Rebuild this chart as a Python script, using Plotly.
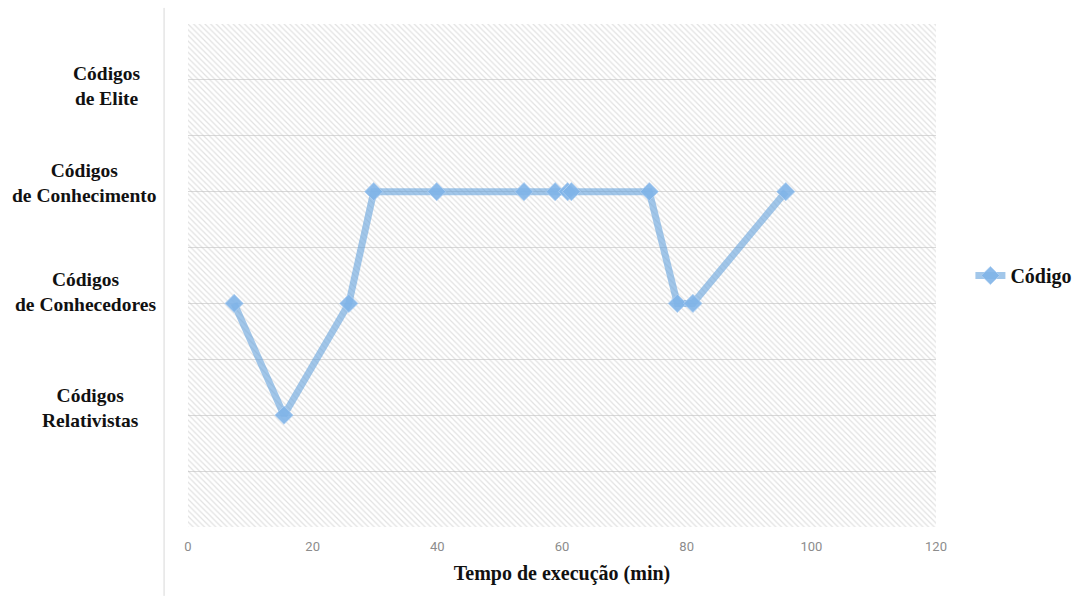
import plotly.graph_objects as go

# Execution time (min) and the code level reached at each observation
tempo = [7.4, 15.4, 25.8, 29.8, 39.9, 53.9, 58.9, 60.9, 61.5, 74.0, 78.5, 81.0, 95.9]
nivel = [2, 1, 2, 3, 3, 3, 3, 3, 3, 3, 2, 2, 3]

# Category labels on the vertical axis
nivel_vals = [4, 3, 2, 1]
nivel_labels = ["Códigos<br>de Elite", "Códigos<br>de Conhecimento",
                "Códigos<br>de Conhecedores", "Códigos<br>Relativistas"]
# horizontal / vertical nudges of each category label (px)
label_xshift = [-81, -104, -103, -98]
label_yshift = [-6, 9, 11, 7]

x_range = [0, 120]
y_range = [0, 4.5]

serif = "Liberation Serif, serif"
tick_font = "Roboto"

fig = go.Figure()

# hatched plot background
fig.add_trace(go.Scatter(
    x=[x_range[0], x_range[1], x_range[1], x_range[0], x_range[0]],
    y=[y_range[0], y_range[0], y_range[1], y_range[1], y_range[0]],
    mode="lines", line=dict(width=0), fill="toself",
    fillcolor="rgba(255,255,255,0)",
    fillpattern=dict(shape="\\", fgcolor="#c4c4c4", bgcolor="rgba(0,0,0,0)",
                     size=4, solidity=0.3),
    hoverinfo="skip", showlegend=False,
))

fig.add_trace(go.Scatter(
    x=tempo, y=nivel, mode="lines+markers", name="<b>Código</b>",
    line=dict(color="rgba(100,162,220,0.6)", width=7),
    marker=dict(symbol="diamond", size=14, color="rgba(128,180,232,0.9)",
                line=dict(color="rgba(175,208,242,0.8)", width=1)),
))

for v, t, dx, dy in zip(nivel_vals, nivel_labels, label_xshift, label_yshift):
    fig.add_annotation(
        x=0, xref="paper", y=v, yref="y",
        text="<b>" + t.replace("<br>", "</b><br><b>") + "</b>",
        showarrow=False,
        xanchor="center", yanchor="middle", align="center",
        xshift=dx, yshift=dy,
        font=dict(family=serif, size=19.5, color="#111111"),
    )

# thin frame line on the left
fig.add_shape(type="line", xref="paper", yref="paper",
              x0=-0.032, x1=-0.032, y0=-0.137, y1=1.032,
              line=dict(color="#d9d9d9", width=1))

fig.update_xaxes(
    range=x_range, dtick=20, showgrid=False, zeroline=False, showline=False,
    ticks="", ticklabelstandoff=10,
    tickfont=dict(family=tick_font, size=13, color="#8c8c8c"),
    title=dict(text="<b>Tempo de execução (min)</b>", standoff=12,
               font=dict(family=serif, size=20, color="#111111")),
)
fig.update_yaxes(
    range=y_range, dtick=0.5, showgrid=True, gridcolor="#d9d9d9", gridwidth=1,
    zeroline=False, showline=False, showticklabels=False, ticks="",
)

fig.update_layout(
    width=1076, height=598,
    margin=dict(l=188, r=140, t=24, b=71, autoexpand=False),
    paper_bgcolor="white", plot_bgcolor="white",
    legend=dict(x=1.046, y=0.5, xanchor="left", yanchor="middle",
                font=dict(family=serif, size=20, color="#111111"),
                itemwidth=30, bgcolor="rgba(0,0,0,0)"),
)

fig.write_html("out.html")
